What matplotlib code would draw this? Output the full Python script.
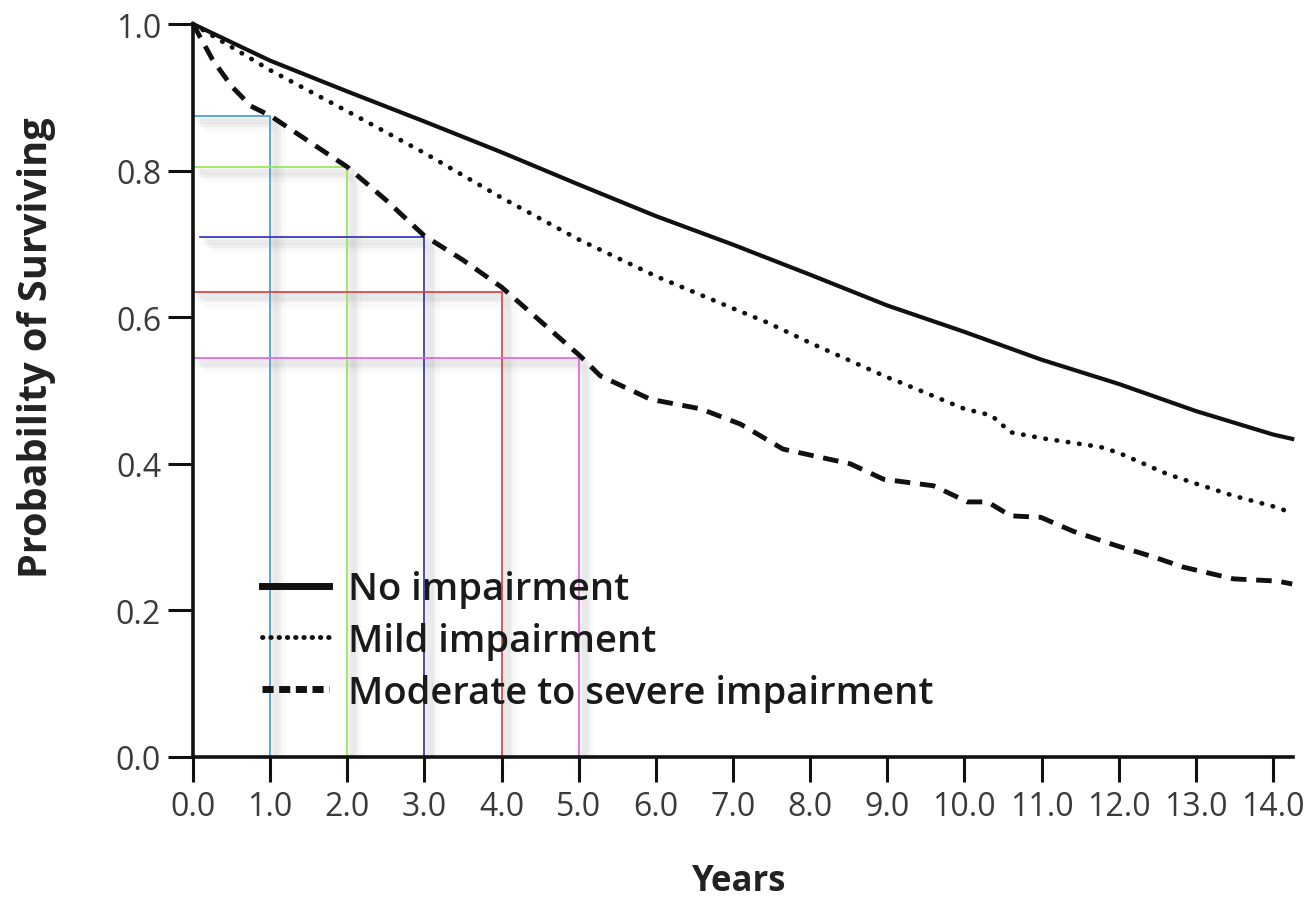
import matplotlib
matplotlib.use("Agg")
import matplotlib.pyplot as plt
from matplotlib.transforms import offset_copy

plt.rcParams["font.family"] = ["Open Sans", "DejaVu Sans"]

# ---- Kaplan-Meier style survival curves ----
t_none = [0, 1, 2, 3, 4, 5, 6, 7, 8, 9, 10, 11, 12, 13, 14, 14.25]
s_none = [1.0, 0.950, 0.908, 0.867, 0.825, 0.781, 0.738, 0.699, 0.658, 0.616,
          0.580, 0.542, 0.509, 0.472, 0.440, 0.434]

t_mild = [0, 1, 2, 3, 4, 5, 6, 7, 7.44, 8, 9, 9.17, 10, 10.35, 10.6, 11, 11.76, 12, 12.63, 13, 13.5, 14, 14.25]
s_mild = [1.0, 0.937, 0.881, 0.824, 0.763, 0.706, 0.656, 0.612, 0.593, 0.565, 0.518, 0.511,
          0.475, 0.466, 0.443, 0.435, 0.423, 0.415, 0.386, 0.373, 0.356, 0.342, 0.333]

t_mod = [0, 0.25, 0.5, 0.75, 1, 1.5, 2, 2.5, 3, 3.5, 4, 4.5, 5.02, 5.28, 5.93, 6.58, 7.1, 7.65,
         8.52, 8.95, 9.6, 10.04, 10.3, 10.6, 10.99, 11.41, 11.98, 12.45, 12.84, 13.49, 14.06, 14.25]
s_mod = [1.0, 0.952, 0.915, 0.888, 0.875, 0.84, 0.805, 0.76, 0.711, 0.678, 0.641, 0.595,
         0.547, 0.520, 0.488, 0.475, 0.454, 0.420, 0.400, 0.379, 0.370, 0.348, 0.348, 0.329,
         0.327, 0.308, 0.288, 0.273, 0.259, 0.243, 0.240, 0.236]

# ---- yearly survival markers for the moderate/severe group ----
mark_years = [1, 2, 3, 4, 5]
mark_surv = [0.875, 0.805, 0.710, 0.635, 0.545]
mark_start = [0, 0, 0.09, 0, 0]
mark_colors = ["#3d9be0", "#8fe84a", "#2b2bc0", "#e03a3a", "#e060e0"]

labels = ["No impairment", "Mild impairment", "Moderate to severe impairment"]
xticks = list(range(0, 15))
yticks = [0.0, 0.2, 0.4, 0.6, 0.8, 1.0]

fig = plt.figure(figsize=(13.11, 9.04), dpi=100)
ax = fig.add_axes([193 / 1311, 1 - 758 / 904, 1100 / 1311, 733 / 904])

# colored guide lines with a soft grey shadow
for x0, yv, xs, c in zip(mark_years, mark_surv, mark_start, mark_colors):
    xs_ = [xs, x0, x0]
    ys_ = [yv, yv, 0]
    for dx, dy, a in [(3, -3, 0.10), (5, -5, 0.08), (8, -8, 0.05)]:
        tr = offset_copy(ax.transData, fig=fig, x=dx, y=dy, units="points")
        ax.plot(xs_, ys_, color="0.55", lw=6, alpha=a, transform=tr,
                solid_capstyle="butt", zorder=1)
    ax.plot(xs_, ys_, color=c, lw=1.2, zorder=2)

ax.plot(t_none, s_none, color="#111111", lw=3, zorder=3, clip_on=False)
ax.plot(t_mild, s_mild, color="#111111", lw=3.4, ls=(0, (0.1, 2.3)),
        dash_capstyle="round", zorder=3, clip_on=False)
ax.plot(t_mod, s_mod, color="#111111", lw=3.5, ls=(0, (3.2, 2.0)), zorder=3, clip_on=False)

# legend handles drawn a bit heavier than the curves
h1, = ax.plot([], [], color="#111111", lw=5)
h2, = ax.plot([], [], color="#111111", lw=3.5, ls=(0, (0.1, 1.6)), dash_capstyle="round")
h3, = ax.plot([], [], color="#111111", lw=5, ls=(0, (1.6, 0.8)))
leg = ax.legend([h1, h2, h3], labels, loc="lower left", bbox_to_anchor=(0.063, 0.062),
                frameon=False, prop={"size": 27.5, "weight": "semibold"},
                handlelength=1.75, handletextpad=0.5,
                labelspacing=0.36, borderpad=0, borderaxespad=0)
for txt in leg.get_texts():
    txt.set_color("#1a1a1a")

ax.set_xlim(0, 14.26)
ax.set_ylim(0, 1.0)
ax.set_xticks(xticks)
ax.set_xticklabels([f"{v:.1f}" for v in xticks])
ax.set_yticks(yticks)
ax.set_yticklabels([f"{v:.1f}" for v in yticks])
ax.tick_params(axis="both", direction="out", length=18, width=2.2, color="#111111",
               labelsize=23, labelcolor="#3a3a3a")
ax.tick_params(axis="x", pad=6)
ax.tick_params(axis="y", pad=5)

for side in ("top", "right"):
    ax.spines[side].set_visible(False)
for side in ("left", "bottom"):
    ax.spines[side].set_linewidth(2.6)
    ax.spines[side].set_color("#111111")

ax.set_xlabel("Years", fontsize=25, fontweight="bold", color="#222222", va="center")
ax.xaxis.set_label_coords(0.497, -0.169)
ax.set_ylabel("Probability of Surviving", fontsize=28.5, fontweight="bold", color="#222222",
              va="center")
ax.yaxis.set_label_coords(-0.142, 0.56)

fig.savefig("out.png", dpi=100)
